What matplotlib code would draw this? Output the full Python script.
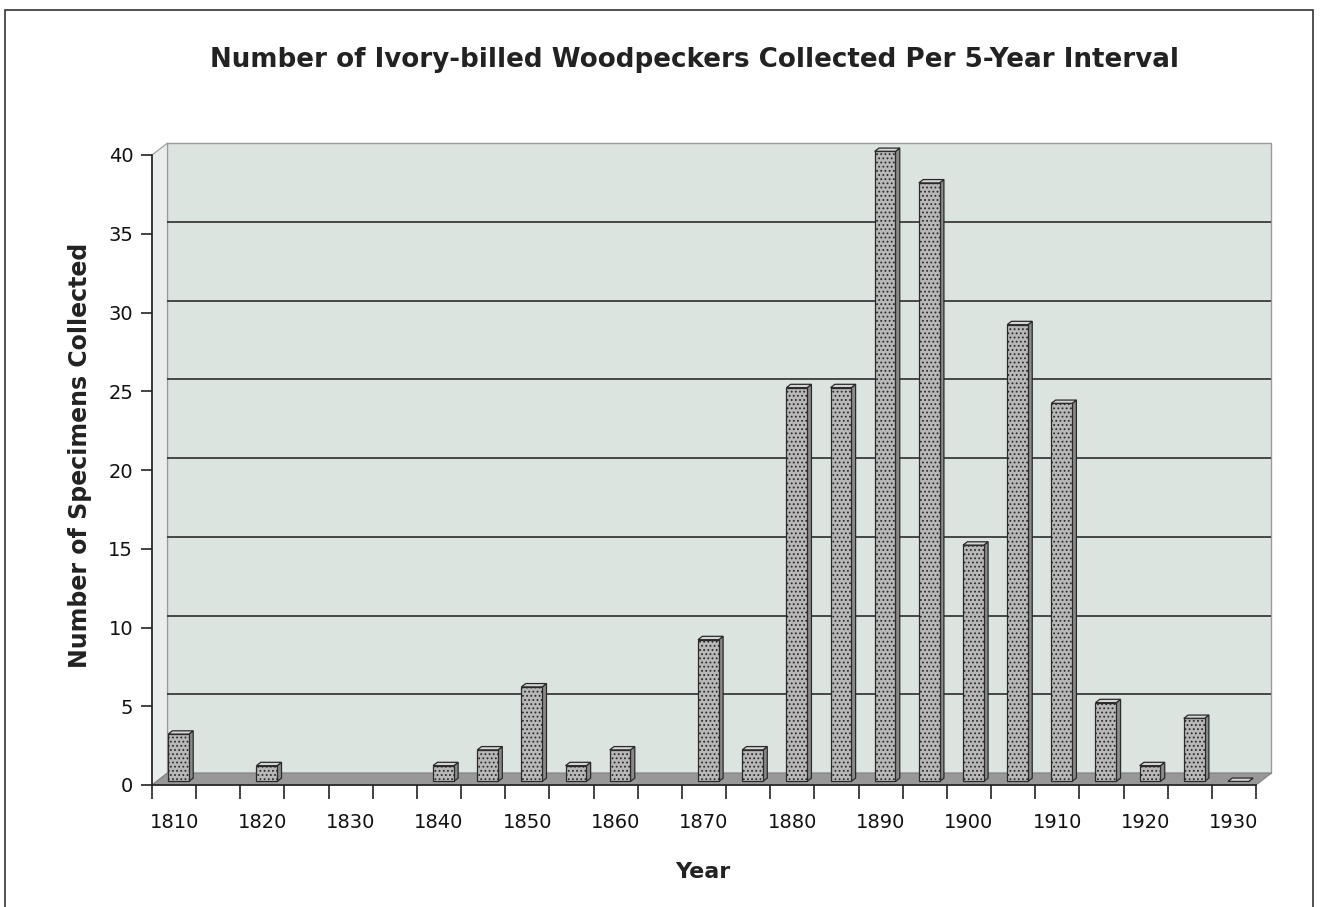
import numpy as np
import matplotlib
matplotlib.use("Agg")
import matplotlib.pyplot as plt
from matplotlib.patches import Polygon, Rectangle

plt.rcParams['font.family'] = ['DejaVu Sans']

# ---------------- data ----------------
years = list(range(1810, 1935, 5))
counts = [3, np.nan, 1, np.nan, np.nan, np.nan, 1, 2, 6, 1, 2, np.nan, 9, 2,
          25, 25, 40, 38, 15, 29, 24, 5, 1, 4, 0]
tick_years = [1810, 1820, 1830, 1840, 1850, 1860, 1870, 1880, 1890, 1900,
              1910, 1920, 1930]
y_ticks = [0, 5, 10, 15, 20, 25, 30, 35, 40]
title = "Number of Ivory-billed Woodpeckers Collected Per 5-Year Interval"
xlabel = "Year"
ylabel = "Number of Specimens Collected"

# ---------------- figure ----------------
W, H = 1322, 907
fig = plt.figure(figsize=(W / 100, H / 100), dpi=100)
fig.patch.set_facecolor("white")

# outer border
fig.add_artist(Rectangle((5 / W, -0.05), (1313 - 5) / W, 1.05 - 10 / H,
                         transform=fig.transFigure, fill=False,
                         edgecolor="#333333", lw=1.2))

ax_l, ax_r, ax_t, ax_b = 152, 1256, 155, 785
ax = fig.add_axes([ax_l / W, (H - ax_b) / H, (ax_r - ax_l) / W, (ax_b - ax_t) / H])
n = len(years)
ymax = 40
ax.set_xlim(0, n)
ax.set_ylim(0, ymax)
ax.patch.set_visible(False)

# depth offsets (data units)
DX = 0.35
DY = 0.76

wall_col = "#dce4e0"
side_col = "#e9edeb"
floor_col = "#989898"
grid_col = "#3a3a3a"

# back wall
ax.add_patch(Rectangle((DX, DY), n, ymax, facecolor=wall_col, edgecolor="#9a9a9a",
                       lw=1.0, clip_on=False, zorder=0))
# left side wall
ax.add_patch(Polygon([(0, 0), (DX, DY), (DX, ymax + DY), (0, ymax)], closed=True,
                     facecolor=side_col, edgecolor="#9a9a9a", lw=0.8,
                     clip_on=False, zorder=0.5))
# floor
ax.add_patch(Polygon([(0, 0), (n, 0), (n + DX, DY), (DX, DY)], closed=True,
                     facecolor=floor_col, edgecolor="#808080", lw=0.8,
                     clip_on=False, zorder=0.6))
# gridlines on back wall
for v in y_ticks[1:-1]:
    ax.plot([DX, n + DX], [v + DY, v + DY], color=grid_col, lw=1.3,
            clip_on=False, zorder=0.7, solid_capstyle="butt")

# bars
bw = 0.47
shift = 0.30   # bar depth position
bd = 0.28      # bar depth fraction
bx0 = 0.26 + shift * DX
by0 = shift * DY
bdx = bd * DX
bdy = bd * DY
plt.rcParams['hatch.color'] = "#555555"
plt.rcParams['hatch.linewidth'] = 0.8
for i, c in enumerate(counts):
    if np.isnan(c):
        continue
    x0 = i + bx0
    # side face
    ax.add_patch(Polygon([(x0 + bw, by0), (x0 + bw + bdx, by0 + bdy),
                          (x0 + bw + bdx, by0 + c + bdy), (x0 + bw, by0 + c)],
                         closed=True, facecolor="#8a8a8a", edgecolor="#2a2a2a",
                         lw=0.9, zorder=2, clip_on=False))
    # top face
    ax.add_patch(Polygon([(x0, by0 + c), (x0 + bdx, by0 + c + bdy),
                          (x0 + bw + bdx, by0 + c + bdy), (x0 + bw, by0 + c)],
                         closed=True, facecolor="#d4d4d4", edgecolor="#2a2a2a",
                         lw=0.9, zorder=2, clip_on=False))
    # front face
    if c > 0:
        ax.bar(x0, c, bottom=by0, width=bw, align="edge", facecolor="#b8b8b8",
               edgecolor="#2a2a2a", lw=0.9, hatch="....", zorder=3, clip_on=False)

# spines and ticks
for s in ["top", "right"]:
    ax.spines[s].set_visible(False)
for s in ["left", "bottom"]:
    ax.spines[s].set_color("#222222")
    ax.spines[s].set_linewidth(1.2)
    ax.spines[s].set_zorder(5)

ax.set_yticks(y_ticks)
ax.set_yticklabels([str(v) for v in y_ticks], fontsize=14)
ax.tick_params(axis="y", direction="out", length=8, width=1.2, color="#222222", pad=5.5)

ax.set_xticks(np.arange(n + 1))
ax.set_xticklabels([])
ax.tick_params(axis="x", which="major", direction="out", length=10, width=1.2,
               color="#222222")
tick_pos = [years.index(y) + 0.5 for y in tick_years]
ax.set_xticks(tick_pos, minor=True)
ax.set_xticklabels([str(y) for y in tick_years], minor=True, fontsize=14)
ax.tick_params(axis="x", which="minor", length=0, pad=20)

for lab in ax.get_xticklabels(minor=True) + ax.get_yticklabels():
    lab.set_color("#111111")

# texts
fig.text(694 / W, 1 - 60 / H, title, ha="center", va="center", fontsize=18.8,
         fontweight="bold", color="#222222")
fig.text(80 / W, 1 - 455 / H, ylabel, ha="center", va="center", rotation=90,
         fontsize=17, fontweight="bold", color="#222222")
fig.text(703 / W, 1 - 872 / H, xlabel, ha="center", va="center", fontsize=16,
         fontweight="bold", color="#222222")

fig.savefig("out.png", dpi=100, facecolor="white")
